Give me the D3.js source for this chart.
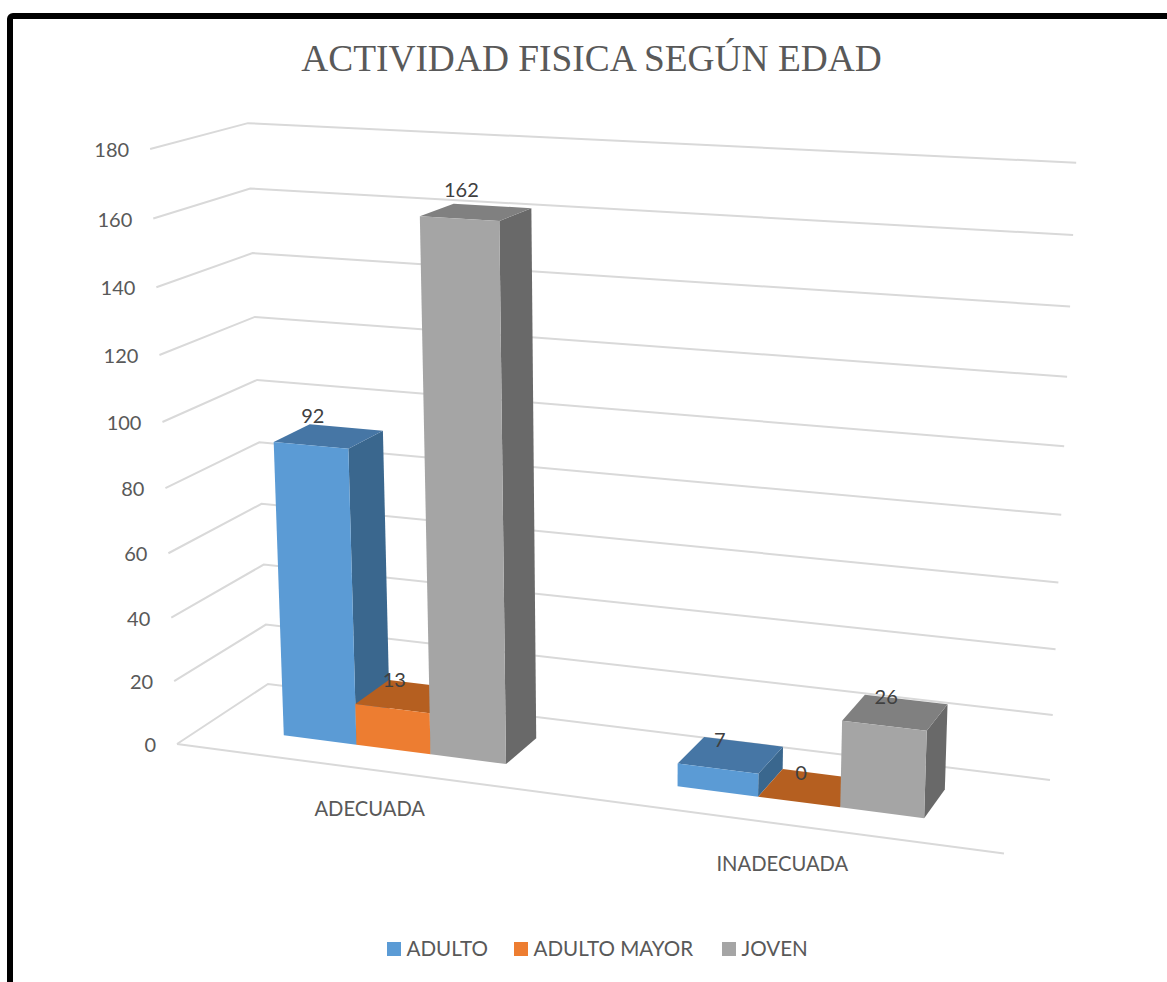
<!DOCTYPE html>
<html><head><meta charset="utf-8">
<script src="https://cdn.jsdelivr.net/npm/d3@7/dist/d3.min.js"></script>
<style>html,body{margin:0;padding:0;background:#fff;overflow:hidden}svg{display:block}</style>
</head><body><svg id="c" width="1167" height="982"></svg>
<script>
const chartTitle = "ACTIVIDAD FISICA SEGÚN EDAD";
const categories = ["ADECUADA", "INADECUADA"];
const seriesNames = ["ADULTO", "ADULTO MAYOR", "JOVEN"];
const adulto = [92, 7];
const adultoMayor = [13, 0];
const joven = [162, 26];
const tickValues = [0, 20, 40, 60, 80, 100, 120, 140, 160, 180];
const seriesValues = [adulto, adultoMayor, joven];
const faceColors = ["#5B9BD5", "#ED7D31", "#A5A5A5"];
const topColors = ["#4676A5", "#B55F20", "#808080"];
const sideColors = ["#3A678E", "#B55F20", "#696969"];

// perspective frame: floor quad [front-left, front-right, back-right, back-left] and vertical vanishing point
const floorQuad = [[177,744],[1004,853.5],[1050,780],[268,684]];
const vanish = [628,10727];
const roofLift = -0.05625;

function homography(q){
  const [[x0,y0],[x1,y1],[x2,y2],[x3,y3]] = q;
  const dx1=x1-x2, dx2=x3-x2, sx=x0-x1+x2-x3, dy1=y1-y2, dy2=y3-y2, sy=y0-y1+y2-y3;
  const den=dx1*dy2-dx2*dy1;
  const g=(sx*dy2-dx2*sy)/den, h=(dx1*sy-sx*dy1)/den;
  const a=x1-x0+g*x1, b=x3-x0+h*x3, d=y1-y0+g*y1, e=y3-y0+h*y3;
  return (u,v)=>{const w=g*u+h*v+1;return [(a*u+b*v+x0)/w,(d*u+e*v+y0)/w,w];};
}
const Hfloor = homography(floorQuad);
const yScale = d3.scaleLinear().domain([0,180]).range([0,roofLift]);
function project(u,v,val){
  const [px,py,w]=Hfloor(u,v), s=yScale(val);
  return [(w*px+s*vanish[0])/(w+s),(w*py+s*vanish[1])/(w+s)];
}
const x0 = d3.scaleBand().domain(categories).range([0,1]);
const x1 = d3.scaleBand().domain(seriesNames).range([0,x0.bandwidth()]).paddingInner(0).paddingOuter(1.1);
const depthFront = 0.30, depthBack = 0.70;

const svg = d3.select("#c");
const line = d3.line();

svg.append("rect").attr("x",10).attr("y",16).attr("width",1300).attr("height",1300).attr("rx",3)
  .attr("fill","#fff").attr("stroke","#000").attr("stroke-width",6);

svg.append("text").attr("x",591.5).attr("y",71).attr("text-anchor","middle")
  .attr("font-family","'Liberation Serif',serif").attr("font-size",37.4).attr("fill","#595959").text(chartTitle);

const grid = svg.append("g").attr("fill","none").attr("stroke","#D9D9D9").attr("stroke-width",2);
grid.selectAll("path").data(tickValues).join("path")
  .attr("d",d=>line([project(0,0,d),project(0,1,d),project(1,1,d)]));
grid.append("path").attr("d",line([project(0,0,0),project(1,0,0)]));

svg.append("g").selectAll("text").data(tickValues).join("text")
  .attr("x",d=>project(0,0,d)[0]-21).attr("y",d=>project(0,0,d)[1]+8)
  .attr("text-anchor","end").attr("font-family","Lato,sans-serif").attr("font-size",20).attr("fill","#595959")
  .text(d=>d);

const barsG = svg.append("g");
categories.forEach((cat,ci)=>{
  seriesNames.forEach((s,si)=>{
    const val = seriesValues[si][ci];
    const u0 = x0(cat)+x1(s), u1 = u0+x1.bandwidth();
    const g = barsG.append("g");
    const poly = pts => line(pts)+"Z";
    g.append("path").attr("fill",sideColors[si]).attr("d",poly([
      project(u1,depthFront,0),project(u1,depthBack,0),project(u1,depthBack,val),project(u1,depthFront,val)]));
    g.append("path").attr("fill",topColors[si]).attr("d",poly([
      project(u0,depthFront,val),project(u1,depthFront,val),project(u1,depthBack,val),project(u0,depthBack,val)]));
    g.append("path").attr("fill",faceColors[si]).attr("d",poly([
      project(u0,depthFront,0),project(u1,depthFront,0),project(u1,depthFront,val),project(u0,depthFront,val)]));
  });
});
const labels = svg.append("g");
categories.forEach((cat,ci)=>{
  seriesNames.forEach((s,si)=>{
    const val = seriesValues[si][ci];
    const um = x0(cat)+x1(s)+x1.bandwidth()/2;
    const p = project(um,depthFront,val);
    labels.append("text").attr("x",p[0]+2).attr("y",p[1]-22).attr("text-anchor","middle")
      .attr("font-family","Lato,sans-serif").attr("font-size",20).attr("fill","#404040").text(val);
  });
});
svg.append("g").selectAll("text").data(categories).join("text")
  .attr("x",d=>project(x0(d)+x0.bandwidth()/2,0,0)[0]+2)
  .attr("y",d=>project(x0(d)+x0.bandwidth()/2,0,0)[1]+47)
  .attr("text-anchor","middle").attr("font-family","Lato,sans-serif").attr("font-size",20.2).attr("fill","#595959")
  .text(d=>d);

const legendSwatchX = [387,514,722], legendY = 942, legendSize = 14;
const legend = svg.append("g");
seriesNames.forEach((s,i)=>{
  legend.append("rect").attr("x",legendSwatchX[i]).attr("y",legendY).attr("width",legendSize).attr("height",legendSize).attr("fill",faceColors[i]);
  legend.append("text").attr("x",legendSwatchX[i]+19.5).attr("y",legendY+14)
    .attr("font-family","Lato,sans-serif").attr("font-size",20.6).attr("fill","#595959").text(s);
});
</script></body></html>
